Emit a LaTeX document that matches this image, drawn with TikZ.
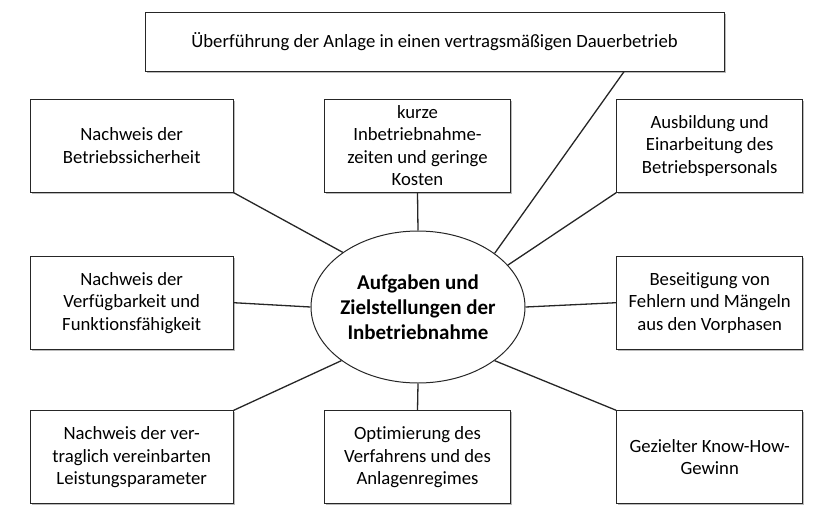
\documentclass[tikz,border=0pt]{standalone}
\usepackage{fontspec}
\setmainfont{Carlito}[Ligatures=NoCommon]
\usetikzlibrary{shapes.geometric,shadows}

\begin{document}
\begin{tikzpicture}[
  x=1pt,
  y=-1pt,
  goal/.style={draw=black!85, line width=1pt, fill=white, align=center,
    font=\fontsize{18.7}{22.5}\selectfont, inner sep=0pt, minimum height=93pt,
    drop shadow={shadow xshift=1.6pt, shadow yshift=-1.6pt, opacity=0.45, fill=black!60}},
  widegoal/.style={goal, minimum width=203pt},
  narrowgoal/.style={goal, minimum width=186pt},
  hub/.style={ellipse, draw=black!85, line width=1pt, fill=white, align=center,
    inner sep=0pt, inner xsep=-6pt, minimum width=214pt, minimum height=152pt,
    font=\bfseries\fontsize{21}{25}\selectfont},
  link/.style={draw=black!85, line width=1.3pt}
]
\useasboundingbox (0,0) rectangle (820,523);
% top
\node[goal, minimum width=579pt, minimum height=59pt] (ueber) at (434.5,41.7)
  {Überführung der Anlage in einen vertragsmäßigen Dauerbetrieb};
% upper row
\node[widegoal] (sicher) at (131.7,145.7) {Nachweis der\\Betriebssicherheit};
\node[narrowgoal] (kurz) at (417.5,145.7) {kurze\\Inbetriebnahme-\\zeiten und geringe\\Kosten};
\node[narrowgoal] (ausbild) at (709.7,145.7) {Ausbildung und\\Einarbeitung des\\Betriebspersonals};
% middle row
\node[widegoal] (verfueg) at (131.7,302.7) {Nachweis der\\Verfügbarkeit und\\Funktionsfähigkeit};
\node[hub] (ziel) at (418,307) {Aufgaben und\\Zielstellungen der\\Inbetriebnahme};
\node[narrowgoal] (fehler) at (709.7,302.7) {Beseitigung von\\Fehlern und Mängeln\\aus den Vorphasen};
% lower row
\node[widegoal] (leistung) at (131.7,457.3) {Nachweis der ver-\\traglich vereinbarten\\Leistungsparameter};
\node[narrowgoal] (optim) at (417.5,457.3) {Optimierung des\\Verfahrens und des\\Anlagenregimes};
\node[narrowgoal] (knowhow) at (709.7,457.3) {Gezielter Know-How-\\Gewinn};
% spokes
\foreach \from/\to in {ueber.-9.2/ziel.35.4, sicher.south east/ziel.144.6,
  kurz.south/ziel.north, ausbild.south west/ziel.25.7, verfueg.east/ziel.west,
  fehler.west/ziel.east, leistung.north east/ziel.215.3, optim.north/ziel.south,
  knowhow.north west/ziel.325} {
  \draw[link] (\from) -- (\to);
}
\end{tikzpicture}
\end{document}
